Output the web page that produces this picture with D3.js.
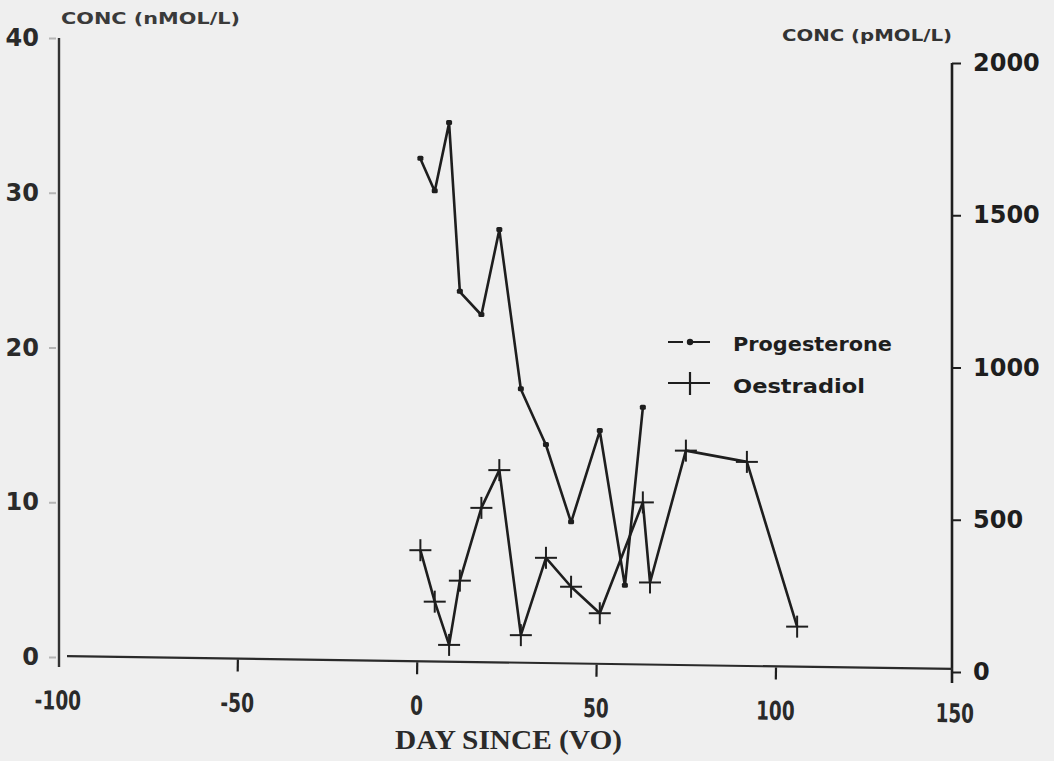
<!DOCTYPE html>
<html>
<head>
<meta charset="utf-8">
<script src="https://cdn.jsdelivr.net/npm/d3@7"></script>
<style>
  html, body { margin: 0; padding: 0; background: #efefef; }
  svg { display: block; }
</style>
</head>
<body>
<svg id="chart" width="1054" height="761"></svg>
<script>
// Hormone concentrations by day since VO
const progDays   = [1, 5, 9, 12, 18, 23, 29, 36, 43, 51, 58, 63];
const progValues = [32.2, 30.1, 34.5, 23.6, 22.1, 27.6, 17.3, 13.7, 8.7, 14.6, 4.6, 16.1];

const oestDays   = [1, 5, 9, 12, 18, 23, 29, 36, 43, 51, 63, 65, 75, 92, 106];
const oestValues = [400, 231, 89, 300, 539, 663, 121, 375, 280, 193, 557, 294, 727, 690, 149];

const xTicks      = [-100, -50, 0, 50, 100, 150];
const leftTicks   = [0, 10, 20, 30, 40];
const rightTicks  = [0, 500, 1000, 1500, 2000];
const seriesNames = ["Progesterone", "Oestradiol"];

const ink = "#1e1e1e";
const svg = d3.select("#chart");

const x  = d3.scaleLinear().domain([-100, 150]).range([58, 955]);
const yL = d3.scaleLinear().domain([0, 40]).range([657, 38]);
const yR = d3.scaleLinear().domain([0, 2000]).range([672, 63]);

const yFont = "'DejaVu Sans', sans-serif";
const xFont = "'DejaVu Sans Condensed', 'DejaVu Sans', sans-serif";
const plain = d => String(d);

// Left axis (nmol/L)
const gL = svg.append("g").attr("transform", `translate(${x(-100) + 1},0)`)
  .call(d3.axisLeft(yL).tickValues(leftTicks).tickFormat(plain)
    .tickSize(7).tickSizeOuter(0).tickPadding(13));
gL.select(".domain").attr("d", `M0,${yL(40)}V${yL(0) + 10}`)
  .attr("stroke", "#333").attr("stroke-width", 2.4);
gL.selectAll(".tick line").attr("stroke", "#b5b5b5").attr("stroke-width", 2)
  .attr("transform", "translate(-3,0)");
gL.selectAll("text").attr("font-family", yFont).attr("font-size", 24)
  .attr("font-weight", "bold").attr("fill", "#2a2a2a");

// Right axis (pmol/L)
const gR = svg.append("g").attr("transform", `translate(${x(150) - 3},0)`)
  .call(d3.axisRight(yR).tickValues(rightTicks).tickFormat(plain)
    .tickSize(9).tickSizeOuter(0).tickPadding(12));
gR.select(".domain").attr("d", `M0,${yR(2000)}V${yR(0) + 11}`)
  .attr("stroke", ink).attr("stroke-width", 2.6);
gR.selectAll(".tick line").attr("stroke", ink).attr("stroke-width", 2);
gR.selectAll("text").attr("font-family", yFont).attr("font-size", 24)
  .attr("font-weight", "bold").attr("fill", ink);

// Bottom axis, laid along the gently sloping baseline
const run = x(150) - x(-100);
const slope = Math.atan2(13, run) * 180 / Math.PI;
const xLocal = d3.scaleLinear().domain([-100, 150]).range([0, run]);
const gX = svg.append("g").attr("transform", `translate(${x(-100)},656) rotate(${slope})`)
  .call(d3.axisBottom(xLocal).tickValues(xTicks).tickFormat(plain)
    .tickSize(0).tickSizeOuter(0));
gX.select(".domain").attr("d", `M9,0H${run - 2}`)
  .attr("stroke", "#2a2a2a").attr("stroke-width", 2.2);
// inner tick marks hang below the baseline
gX.selectAll(".tick").filter(d => d !== -100 && d !== 150)
  .append("line").attr("class", "tick-mark")
  .attr("x1", 0).attr("x2", 0).attr("y1", 1).attr("y2", 13)
  .attr("stroke", ink).attr("stroke-width", 2.2);
gX.selectAll("text")
  .attr("y", 44).attr("dy", "0.36em")
  .attr("font-family", xFont).attr("font-size", 26).attr("font-weight", "bold")
  .attr("fill", "#2a2a2a")
  .attr("textLength", d => String(d).replace("-", "").length * 12.8 + (d < 0 ? 8 : 0))
  .attr("lengthAdjust", "spacingAndGlyphs");

// Axis titles
svg.append("text").attr("x", 61).attr("y", 24)
  .attr("font-family", "'DejaVu Sans', sans-serif").attr("font-weight", "bold")
  .attr("font-size", 15).attr("fill", "#3a3a3a")
  .attr("textLength", 179).attr("lengthAdjust", "spacingAndGlyphs")
  .text("CONC (nMOL/L)");
svg.append("text").attr("x", 782).attr("y", 41)
  .attr("font-family", "'DejaVu Sans', sans-serif").attr("font-weight", "bold")
  .attr("font-size", 16).attr("fill", "#333")
  .attr("textLength", 170).attr("lengthAdjust", "spacingAndGlyphs")
  .text("CONC (pMOL/L)");
svg.append("text").attr("x", 395).attr("y", 749)
  .attr("font-family", "'Liberation Serif', 'DejaVu Serif', serif")
  .attr("font-weight", "bold").attr("font-size", 28).attr("fill", "#2a2a2a")
  .attr("textLength", 227).attr("lengthAdjust", "spacingAndGlyphs")
  .text("DAY SINCE (VO)");

// Series
const progData = progDays.map((d, i) => ({ d, v: progValues[i] }));
const oestData = oestDays.map((d, i) => ({ d, v: oestValues[i] }));

svg.append("path").datum(progData)
  .attr("fill", "none").attr("stroke", ink).attr("stroke-width", 2.6)
  .attr("stroke-linejoin", "round")
  .attr("d", d3.line().x(p => x(p.d)).y(p => yL(p.v)));
svg.append("g").selectAll("rect").data(progData).join("rect")
  .attr("x", p => x(p.d) - 3).attr("y", p => yL(p.v) - 3)
  .attr("width", 6).attr("height", 5).attr("rx", 1.5).attr("fill", ink);

svg.append("path").datum(oestData)
  .attr("fill", "none").attr("stroke", ink).attr("stroke-width", 2.6)
  .attr("stroke-linejoin", "round")
  .attr("d", d3.line().x(p => x(p.d)).y(p => yR(p.v)));
const crosses = svg.append("g").selectAll("g").data(oestData).join("g")
  .attr("transform", p => `translate(${x(p.d)},${yR(p.v)})`);
crosses.append("line").attr("x1", -11).attr("x2", 11).attr("y1", 0).attr("y2", 0)
  .attr("stroke", ink).attr("stroke-width", 2);
crosses.append("line").attr("x1", 0).attr("x2", 0).attr("y1", -11).attr("y2", 11)
  .attr("stroke", ink).attr("stroke-width", 2);

// Legend
const legend = svg.append("g").attr("transform", "translate(668,342)");
legend.append("line").attr("x1", 0).attr("x2", 42).attr("y1", 0).attr("y2", 0)
  .attr("stroke", ink).attr("stroke-width", 2).attr("stroke-dasharray", "15,4,27");
legend.append("circle").attr("cx", 22).attr("cy", 0).attr("r", 3.2).attr("fill", ink);
legend.append("line").attr("x1", 0).attr("x2", 42).attr("y1", 41).attr("y2", 41)
  .attr("stroke", ink).attr("stroke-width", 2);
legend.append("line").attr("x1", 22).attr("x2", 22).attr("y1", 30).attr("y2", 53)
  .attr("stroke", ink).attr("stroke-width", 2.2);
legend.selectAll("text.lbl").data(seriesNames).join("text")
  .attr("class", "lbl")
  .attr("x", 65).attr("y", (d, i) => i * 42 + 9)
  .attr("font-family", "'DejaVu Sans', sans-serif").attr("font-weight", "bold")
  .attr("font-size", 19).attr("fill", ink)
  .attr("textLength", (d, i) => i === 0 ? 159 : 132)
  .attr("lengthAdjust", "spacingAndGlyphs")
  .text(d => d);
</script>
</body>
</html>
